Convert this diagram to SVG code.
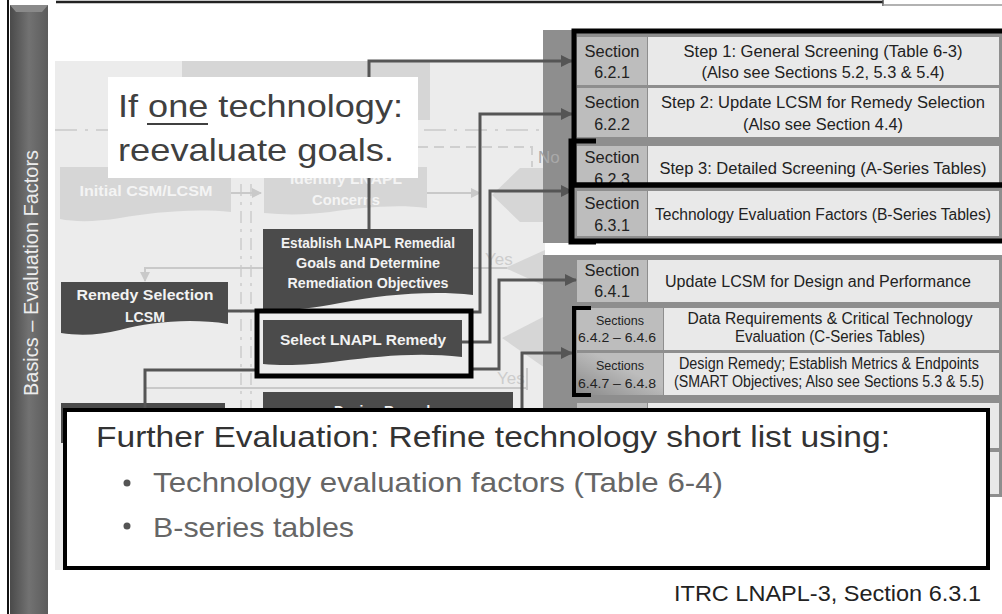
<svg xmlns="http://www.w3.org/2000/svg" width="1002" height="614" viewBox="0 0 1002 614">
<defs>
<style>
.dk{fill:#4b4b4b}
.dkt{font-family:"Liberation Sans",Arial,sans-serif;font-weight:bold;font-size:14px;fill:#f2f2f2;text-anchor:middle}
.fd{fill:#d6d6d6}
.fdt{font-family:"Liberation Sans",Arial,sans-serif;font-weight:bold;font-size:15px;fill:#f4f4f4;text-anchor:middle}
.fl{stroke:#c9c9c9;stroke-width:2;fill:none}
.sec{fill:#bdbdbd}
.cell{fill:#e9e9e9}
.tt{font-family:"Liberation Sans",Arial,sans-serif;font-size:16px;fill:#222;text-anchor:middle}
.ts{font-family:"Liberation Sans",Arial,sans-serif;font-size:12px;fill:#222;text-anchor:middle}
.cn{stroke:#555;stroke-width:3;fill:none}
.thick{stroke:#000;stroke-width:5;fill:none}
.big{font-family:"Liberation Sans",Arial,sans-serif}
</style>
<marker id="ah" markerWidth="12" markerHeight="12" refX="11" refY="6" orient="auto" markerUnits="userSpaceOnUse"><path d="M0,0 L12,6 L0,12 Z" fill="#555"/></marker>
<marker id="fah" markerWidth="10" markerHeight="10" refX="9" refY="5" orient="auto" markerUnits="userSpaceOnUse"><path d="M0,0 L10,5 L0,10 Z" fill="#c9c9c9"/></marker>
<linearGradient id="bar" x1="0" y1="0" x2="1" y2="0"><stop offset="0" stop-color="#4a4a4a"/><stop offset="0.5" stop-color="#727272"/><stop offset="1" stop-color="#5c5c5c"/></linearGradient>
<linearGradient id="secg" x1="0" y1="1" x2="1" y2="0"><stop offset="0" stop-color="#8a8a8a"/><stop offset="0.6" stop-color="#bdbdbd"/></linearGradient>
</defs>
<rect width="1002" height="614" fill="#fff"/>
<g id="sidebar">
<line x1="8" y1="0" x2="8" y2="614" stroke="#111" stroke-width="2"/>
<rect x="10" y="5" width="38" height="609" fill="url(#bar)"/>
<polygon points="10,5 48,5 42,12 16,12" fill="#8a8a8a"/>
<text class="big" transform="translate(38,273) rotate(-90)" text-anchor="middle" font-size="21" fill="#ececec" textLength="246" lengthAdjust="spacingAndGlyphs">Basics – Evaluation Factors</text>
</g>
<g id="topline">
<line x1="56" y1="2" x2="883" y2="2" stroke="#222" stroke-width="2.5"/>
<line x1="883" y1="0" x2="883" y2="6" stroke="#555" stroke-width="1.5"/>
<line x1="883" y1="5" x2="1002" y2="5" stroke="#999" stroke-width="1.5"/>
</g>
<rect x="55" y="61" width="490" height="509" fill="#ececec"/>
<g id="faded">
<rect x="182" y="61" width="248" height="59" class="fd"/>
<line x1="55" y1="130" x2="543" y2="130" stroke="#d2d2d2" stroke-width="2" stroke-dasharray="22,8,3,8"/>
<path d="M418,147 H532 V167" stroke="#cfcfcf" stroke-width="2" fill="none" stroke-dasharray="10,6"/>
<line x1="241" y1="130" x2="241" y2="560" stroke="#d4d4d4" stroke-width="2" stroke-dasharray="12,6,3,6"/>
<line x1="251" y1="130" x2="251" y2="560" stroke="#d4d4d4" stroke-width="2" stroke-dasharray="12,6,3,6"/>
<g id="initial-csm"><path d="M60,167 H231 V212 C190,208 150,213 120,218 C95,222 75,222 60,219 Z" class="fd"/><text class="fdt" x="146" y="196" textLength="133" lengthAdjust="spacingAndGlyphs">Initial CSM/LCSM</text></g>
<g id="identify"><path d="M264,167 H427 V208 C395,204 360,208 330,212 C305,215 285,215 264,213 Z" class="fd"/><text class="fdt" x="346" y="184" textLength="112" lengthAdjust="spacingAndGlyphs">Identify LNAPL</text><text class="fdt" x="346" y="205" textLength="68" lengthAdjust="spacingAndGlyphs">Concerns</text></g>
<line x1="231" y1="193" x2="261" y2="193" class="fl" marker-end="url(#fah)"/>
<line x1="427" y1="193" x2="480" y2="193" class="fl" marker-end="url(#fah)"/>
<polygon points="492,195 520,168 545,168 545,222 520,222" class="fd"/>
<polygon points="505,268 545,250 545,286" class="fd"/>
<polygon points="502,338 545,316 545,368" class="fd"/>
<path d="M145,281 V268 H263" class="fl"/>
<path d="M145,268 V281" class="fl" marker-end="url(#fah)"/>
<line x1="473" y1="268" x2="507" y2="268" class="fl"/>
<line x1="145" y1="388" x2="527" y2="388" class="fl"/>
<line x1="527" y1="368" x2="527" y2="390" class="fl"/>
<text class="big" x="485" y="265" font-size="17" fill="#cdcdcd">Yes</text>
<text class="big" x="497" y="384" font-size="17" fill="#cdcdcd">Yes</text>
</g>
<g id="establish"><path d="M263,229 H473 V295 C430,290 380,295 340,303 C310,309 285,311 263,310 Z" class="dk"/>
<text class="dkt" x="368" y="248" textLength="174" lengthAdjust="spacingAndGlyphs">Establish LNAPL Remedial</text>
<text class="dkt" x="368" y="268" textLength="144" lengthAdjust="spacingAndGlyphs">Goals and Determine</text>
<text class="dkt" x="368" y="288" textLength="161" lengthAdjust="spacingAndGlyphs">Remediation Objectives</text></g>
<g id="remedy-selection-lcsm"><path d="M61,282 H228 V324 C190,318 150,322 120,330 C100,335 80,336 61,333 Z" class="dk"/>
<text class="dkt" x="145" y="300" textLength="137" lengthAdjust="spacingAndGlyphs">Remedy Selection</text>
<text class="dkt" x="145" y="322" textLength="40" lengthAdjust="spacingAndGlyphs">LCSM</text></g>
<g id="select-remedy"><path d="M263,320 H462 V357 C420,352 380,356 340,361 C310,365 285,366 263,364 Z" class="dk"/>
<text class="dkt" x="363" y="345" textLength="166" lengthAdjust="spacingAndGlyphs">Select LNAPL Remedy</text></g>
<g id="design-remedy"><rect x="263" y="392" width="250" height="40" class="dk"/>
<text class="dkt" x="386" y="416" textLength="104" lengthAdjust="spacingAndGlyphs">Design Remedy</text></g>
<g id="left-lower"><rect x="61" y="403" width="164" height="40" class="dk"/></g>
<g id="table">
<rect x="543" y="30" width="459" height="213" fill="#8e8e8e"/>
<rect x="543" y="255" width="459" height="242" fill="#8e8e8e"/>
<text class="big" x="538" y="163" font-size="17" fill="#a9a9a9">No</text>
<g id="row-621"><rect x="577" y="37" width="70" height="48" class="sec"/><rect x="648" y="37" width="351" height="48" class="cell"/>
<text class="tt" x="612" y="57" textLength="55" lengthAdjust="spacingAndGlyphs">Section</text><text class="tt" x="612" y="78">6.2.1</text>
<text class="tt" x="823" y="57" textLength="279" lengthAdjust="spacingAndGlyphs">Step 1: General Screening (Table 6-3)</text>
<text class="tt" x="823" y="78" textLength="243" lengthAdjust="spacingAndGlyphs">(Also see Sections 5.2, 5.3 &amp; 5.4)</text></g>
<g id="row-622"><rect x="577" y="88" width="70" height="49" class="sec"/><rect x="648" y="88" width="351" height="49" class="cell"/>
<text class="tt" x="612" y="108" textLength="55" lengthAdjust="spacingAndGlyphs">Section</text><text class="tt" x="612" y="130">6.2.2</text>
<text class="tt" x="823" y="108" textLength="324" lengthAdjust="spacingAndGlyphs">Step 2: Update LCSM for Remedy Selection</text>
<text class="tt" x="823" y="130" textLength="160" lengthAdjust="spacingAndGlyphs">(Also see Section 4.4)</text></g>
<g id="row-623"><rect x="577" y="146" width="70" height="40" class="sec"/><rect x="648" y="146" width="351" height="40" class="cell"/>
<text class="tt" x="612" y="163" textLength="55" lengthAdjust="spacingAndGlyphs">Section</text><text class="tt" x="612" y="185">6.2.3</text>
<text class="tt" x="823" y="174" textLength="327" lengthAdjust="spacingAndGlyphs">Step 3: Detailed Screening (A-Series Tables)</text></g>
<g id="row-631"><rect x="577" y="191" width="70" height="45" class="sec"/><rect x="648" y="191" width="351" height="45" class="cell"/>
<text class="tt" x="612" y="209" textLength="55" lengthAdjust="spacingAndGlyphs">Section</text><text class="tt" x="612" y="231">6.3.1</text>
<text class="tt" x="823" y="220" font-size="15" textLength="336" lengthAdjust="spacingAndGlyphs">Technology  Evaluation Factors (B-Series Tables)</text></g>
<g id="row-641"><rect x="577" y="260" width="70" height="42" class="sec"/><rect x="648" y="260" width="351" height="42" class="cell"/>
<text class="tt" x="612" y="276" textLength="55" lengthAdjust="spacingAndGlyphs">Section</text><text class="tt" x="612" y="297">6.4.1</text>
<text class="tt" x="818" y="287" textLength="306" lengthAdjust="spacingAndGlyphs">Update LCSM for Design and Performance</text></g>
<g id="row-642"><rect x="577" y="308" width="86" height="42" class="sec"/><rect x="664" y="308" width="335" height="42" class="cell"/>
<text class="ts" x="620" y="325" textLength="48" lengthAdjust="spacingAndGlyphs">Sections</text><text class="ts" x="617" y="342" textLength="78" lengthAdjust="spacingAndGlyphs">6.4.2 – 6.4.6</text>
<text class="tt" x="830" y="324" font-size="14" textLength="285" lengthAdjust="spacingAndGlyphs">Data Requirements &amp; Critical Technology</text>
<text class="tt" x="830" y="342" font-size="14" textLength="190" lengthAdjust="spacingAndGlyphs">Evaluation (C-Series Tables)</text></g>
<g id="row-647"><rect x="577" y="353" width="86" height="42" fill="url(#secg)"/><rect x="664" y="353" width="335" height="42" class="cell"/>
<text class="ts" x="620" y="370" textLength="48" lengthAdjust="spacingAndGlyphs">Sections</text><text class="ts" x="617" y="388" textLength="78" lengthAdjust="spacingAndGlyphs">6.4.7 – 6.4.8</text>
<text class="tt" x="829" y="369" font-size="14" textLength="300" lengthAdjust="spacingAndGlyphs">Design Remedy; Establish Metrics &amp; Endpoints</text>
<text class="tt" x="829" y="387" font-size="14" textLength="310" lengthAdjust="spacingAndGlyphs">(SMART Objectives; Also see Sections 5.3 &amp; 5.5)</text></g>
<g id="row-hidden1"><rect x="577" y="403" width="70" height="45" class="sec"/><rect x="648" y="403" width="351" height="45" class="cell"/></g>
<g id="row-hidden2"><rect x="577" y="452" width="70" height="42" class="sec"/><rect x="648" y="452" width="351" height="42" class="cell"/></g>
</g>
<g id="connectors">
<path d="M369,229 V61 H572" class="cn" marker-end="url(#ah)"/>
<path d="M471,312 H480 V114 H572" class="cn" marker-end="url(#ah)"/>
<path d="M462,342 H490 V191 H572" class="cn" marker-end="url(#ah)"/>
<path d="M471,369 H499 V280 H576" class="cn" marker-end="url(#ah)"/>
<path d="M522,412 V353 H572" class="cn" marker-end="url(#ah)"/>
<path d="M145,412 V370 H257" class="cn"/>
<path d="M228,311 H257" class="cn"/>
</g>
<g id="highlights">
<rect x="257" y="311" width="214" height="65" class="thick"/>
<path d="M1010,31 H574 V185 H1010" class="thick"/>
<path d="M1010,185 H572 V241 H1010" class="thick"/>
<path d="M596,141 H571 V242 H596" class="thick"/>
<path d="M591,308 H574 V395 H591" stroke="#000" stroke-width="4" fill="none"/>
</g>
<g id="callout">
<rect x="108" y="77" width="310" height="101" fill="#fff"/>
<text class="big" x="118" y="117" font-size="32" fill="#404040" textLength="285" lengthAdjust="spacingAndGlyphs">If one technology:</text>
<line x1="147" y1="124" x2="208" y2="124" stroke="#404040" stroke-width="2"/>
<text class="big" x="118" y="161" font-size="32" fill="#404040" textLength="276" lengthAdjust="spacingAndGlyphs">reevaluate goals.</text>
</g>
<g id="further-box">
<rect x="65" y="410" width="923" height="158" fill="#fff" stroke="#000" stroke-width="4"/>
<text class="big" x="96" y="447" font-size="30" fill="#333" textLength="794" lengthAdjust="spacingAndGlyphs">Further Evaluation: Refine technology short list using:</text>
<circle cx="127" cy="483" r="3.5" fill="#555"/>
<text class="big" x="153" y="492" font-size="28" fill="#666" textLength="570" lengthAdjust="spacingAndGlyphs">Technology evaluation factors (Table 6-4)</text>
<circle cx="127" cy="526" r="3.5" fill="#555"/>
<text class="big" x="153" y="537" font-size="28" fill="#666" textLength="201" lengthAdjust="spacingAndGlyphs">B-series tables</text>
</g>
<text class="big" x="674" y="601" font-size="22" fill="#222" textLength="307" lengthAdjust="spacingAndGlyphs">ITRC LNAPL-3, Section 6.3.1</text>
</svg>
